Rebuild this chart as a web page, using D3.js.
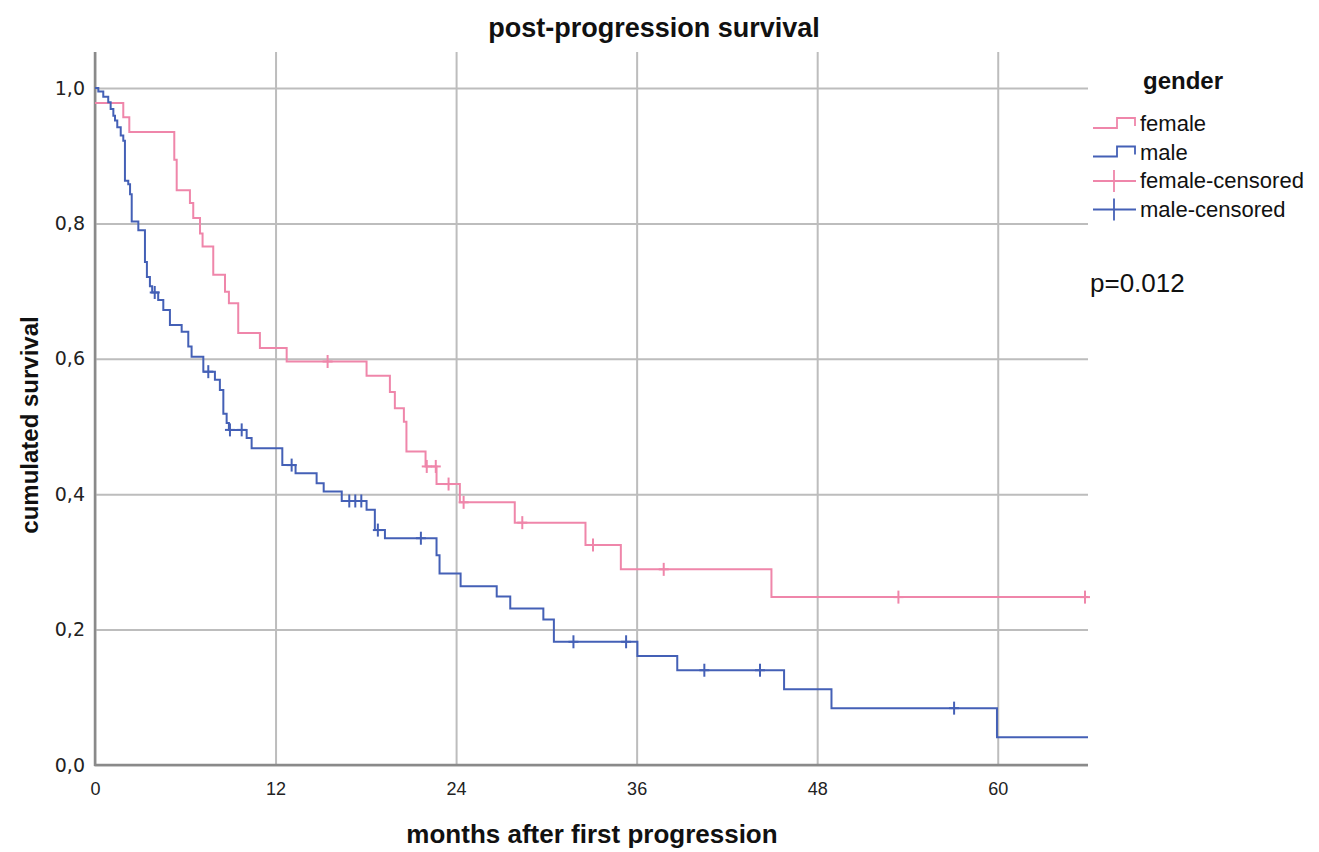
<!DOCTYPE html>
<meta charset="utf-8">
<script src="https://cdn.jsdelivr.net/npm/d3@7"></script>
<style>
  body { margin: 0; background: #fff; }
  text { font-family: "Liberation Sans", Arial, sans-serif; fill: #111; }
  .grid line { stroke: #bdbdbd; stroke-width: 2; }
  .grid path { display: none; }
  .xgrid .tick text { font-size: 18px; fill: #222; }
  .ygrid .tick text { font-size: 19px; fill: #222; font-family: "DejaVu Sans", sans-serif; }
</style>
<body>
<svg id="chart" width="1319" height="852"></svg>
<script>
// Kaplan-Meier steps (time in months, survival after the step)
var femaleTimes = [0, 1.88, 2.28, 5.27, 5.43, 6.31, 6.53, 6.98, 7.15, 7.86, 8.64, 8.9, 9.52, 10.96, 12.74, 18.05, 19.6, 19.93, 20.53, 20.7, 21.97, 22.7, 24.25, 27.9, 32.6, 34.95, 44.96];
var femaleSurv  = [0.978, 0.957, 0.935, 0.894, 0.849, 0.830, 0.808, 0.785, 0.766, 0.724, 0.699, 0.682, 0.638, 0.616, 0.596, 0.575, 0.551, 0.527, 0.507, 0.463, 0.441, 0.415, 0.388, 0.358, 0.325, 0.289, 0.248];
var femaleCensored = [15.46, 22.05, 22.65, 23.5, 24.5, 28.4, 33.1, 37.8, 53.4, 65.8];

var maleTimes = [0, 0.22, 0.55, 0.88, 1.04, 1.22, 1.33, 1.48, 1.71, 1.88, 1.99, 2.21, 2.33, 2.44, 2.88, 3.32, 3.45, 3.65, 3.8, 4.2, 4.54, 4.98, 5.76, 6.2, 6.42, 7.2, 7.97, 8.3, 8.53, 8.75, 8.9, 10.08, 10.41, 12.45, 13.33, 14.73, 15.2, 16.4, 18.05, 18.6, 19.27, 22.7, 22.9, 24.3, 26.7, 27.6, 29.8, 30.5, 36.05, 38.7, 45.8, 48.95, 59.95];
var maleSurv  = [1.0, 0.995, 0.987, 0.979, 0.969, 0.959, 0.952, 0.942, 0.930, 0.922, 0.863, 0.858, 0.843, 0.803, 0.790, 0.743, 0.721, 0.707, 0.698, 0.687, 0.672, 0.650, 0.640, 0.618, 0.603, 0.581, 0.569, 0.554, 0.519, 0.505, 0.495, 0.483, 0.468, 0.443, 0.431, 0.416, 0.404, 0.390, 0.377, 0.347, 0.335, 0.310, 0.283, 0.264, 0.249, 0.231, 0.215, 0.182, 0.161, 0.140, 0.112, 0.084, 0.041];
var maleCensored = [3.97, 7.53, 8.97, 9.75, 13.07, 16.9, 17.3, 17.7, 18.8, 21.66, 31.8, 35.3, 40.5, 44.2, 57.1];

var endTime = 66;
var xTicks = [0, 12, 24, 36, 48, 60];
var yTicks = [0, 0.2, 0.4, 0.6, 0.8, 1.0];
var legendLabels = ["female", "male", "female-censored", "male-censored"];

var pink = "#ef86aa", blue = "#4460b6";

var svg = d3.select("#chart");
var x = d3.scaleLinear().domain([0, endTime]).range([95, 1088]);
var y = d3.scaleLinear().domain([0, 1.0532]).range([765, 52]);

// grid + tick labels
svg.append("g").attr("class", "grid xgrid")
  .attr("transform", "translate(0,765)")
  .call(d3.axisBottom(x).tickValues(xTicks).tickSize(-(765 - 52)).tickPadding(17).tickFormat(d3.format("d")));
svg.append("g").attr("class", "grid ygrid")
  .attr("transform", "translate(95,0)")
  .call(d3.axisLeft(y).tickValues(yTicks).tickSize(-(1088 - 95)).tickPadding(10)
    .tickFormat(function (d) { return d3.format(".1f")(d).replace(".", ","); }));

// axis lines
svg.append("line").attr("x1", 95).attr("x2", 95).attr("y1", 52).attr("y2", 766)
  .attr("stroke", "#8a8a8a").attr("stroke-width", 2.5);
svg.append("line").attr("x1", 94).attr("x2", 1088).attr("y1", 765).attr("y2", 765)
  .attr("stroke", "#8a8a8a").attr("stroke-width", 2.5);

function stepData(times, surv) {
  var pts = times.map(function (t, i) { return [t, surv[i]]; });
  pts.push([endTime, surv[surv.length - 1]]);
  return pts;
}
function survAt(times, surv, t) {
  var s = surv[0];
  for (var i = 0; i < times.length; i++) if (times[i] <= t) s = surv[i];
  return s;
}

var line = d3.line().x(function (d) { return x(d[0]); }).y(function (d) { return y(d[1]); }).curve(d3.curveStepAfter);

var series = [
  { times: femaleTimes, surv: femaleSurv, cens: femaleCensored, color: pink },
  { times: maleTimes, surv: maleSurv, cens: maleCensored, color: blue }
];

series.forEach(function (s) {
  svg.append("path").datum(stepData(s.times, s.surv))
    .attr("d", line).attr("fill", "none").attr("stroke", s.color).attr("stroke-width", 2);
  var g = svg.append("g");
  s.cens.forEach(function (t) {
    var cy = y(survAt(s.times, s.surv, t)), cx = x(t);
    g.append("line").attr("x1", cx).attr("x2", cx).attr("y1", cy - 6.5).attr("y2", cy + 6.5)
      .attr("stroke", s.color).attr("stroke-width", 2);
    g.append("line").attr("x1", cx - 5).attr("x2", cx + 5).attr("y1", cy).attr("y2", cy)
      .attr("stroke", s.color).attr("stroke-width", 2);
  });
});

// titles
svg.append("text").attr("x", 654).attr("y", 37).attr("text-anchor", "middle")
  .style("font-size", "27px").style("font-weight", "bold").text("post-progression survival");
svg.append("text").attr("x", 592).attr("y", 843).attr("text-anchor", "middle")
  .style("font-size", "26px").style("font-weight", "bold").text("months after first progression");
svg.append("text").attr("transform", "translate(38,425) rotate(-90)").attr("text-anchor", "middle")
  .style("font-size", "24px").style("font-weight", "bold").text("cumulated survival");

// legend
svg.append("text").attr("x", 1183).attr("y", 89).attr("text-anchor", "middle")
  .style("font-size", "24px").style("font-weight", "bold").text("gender");
var legColors = [pink, blue, pink, blue];
legendLabels.forEach(function (lab, i) {
  var ly = 124 + i * 28.5;
  var g = svg.append("g");
  if (i < 2) {
    g.append("path").attr("d", "M1093," + (ly + 4) + "H1117V" + (ly - 6) + "H1135V" + (ly + 2))
      .attr("fill", "none").attr("stroke", legColors[i]).attr("stroke-width", 1.8);
  } else {
    g.append("line").attr("x1", 1093).attr("x2", 1136).attr("y1", ly).attr("y2", ly)
      .attr("stroke", legColors[i]).attr("stroke-width", 1.8);
    g.append("line").attr("x1", 1114).attr("x2", 1114).attr("y1", ly - 11).attr("y2", ly + 11)
      .attr("stroke", legColors[i]).attr("stroke-width", 1.8);
  }
  g.append("text").attr("x", 1140).attr("y", ly + 7).style("font-size", "22px").text(lab);
});
svg.append("text").attr("x", 1090).attr("y", 292).style("font-size", "26px").text("p=0.012");
</script>
</body>
